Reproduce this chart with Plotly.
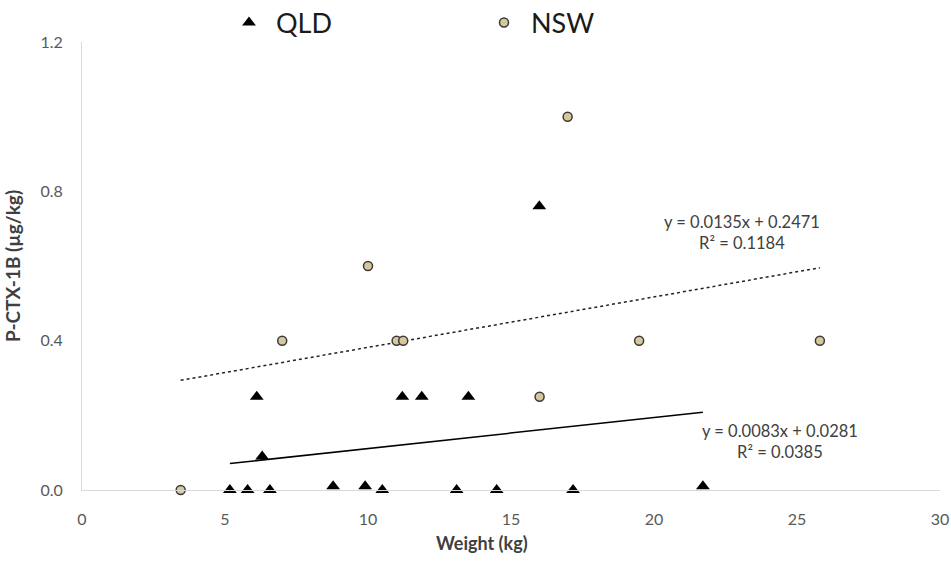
import plotly.graph_objects as go

# ---- data ----
qld_weight = [5.17, 5.79, 6.57, 8.78, 9.90, 10.50, 13.10, 14.50, 17.17, 21.71,
              6.11, 6.30, 11.20, 11.88, 13.51, 15.99]
qld_ctx = [0.0, 0.0, 0.0, 0.01, 0.01, 0.0, 0.0, 0.0, 0.0, 0.01,
           0.25, 0.09, 0.25, 0.25, 0.25, 0.76]

nsw_weight = [3.45, 7.00, 10.00, 11.00, 11.23, 16.00, 16.98, 19.48, 25.80]
nsw_ctx = [0.0, 0.4, 0.6, 0.4, 0.4, 0.25, 1.0, 0.4, 0.4]

qld_slope, qld_intercept, qld_r2 = 0.0083, 0.0281, 0.0385
nsw_slope, nsw_intercept, nsw_r2 = 0.0135, 0.2471, 0.1184

x_ticks = [0, 5, 10, 15, 20, 25, 30]
y_ticks = [0.0, 0.4, 0.8, 1.2]

FONT = "Lato"


def trend(xs, m, b):
    x0, x1 = min(xs), max(xs)
    return [x0, x1], [m * x0 + b, m * x1 + b]


fig = go.Figure()

tx, ty = trend(nsw_weight, nsw_slope, nsw_intercept)
fig.add_trace(go.Scatter(x=tx, y=ty, mode="lines", showlegend=False,
                         line=dict(color="#222222", width=1.5, dash="dot"),
                         hoverinfo="skip"))
tx, ty = trend(qld_weight, qld_slope, qld_intercept)
fig.add_trace(go.Scatter(x=tx, y=ty, mode="lines", showlegend=False,
                         line=dict(color="#000000", width=1.5),
                         hoverinfo="skip"))

fig.add_trace(go.Scatter(
    x=qld_weight, y=qld_ctx, mode="markers", name="QLD",
    marker=dict(symbol="triangle-up", size=12, color="#000000"),
    cliponaxis=False))
fig.add_trace(go.Scatter(
    x=nsw_weight, y=nsw_ctx, mode="markers", name="NSW",
    marker=dict(symbol="circle", size=9, color="#d6c89a",
                line=dict(color="#3a3a3a", width=1.5)),
    cliponaxis=False))

fig.add_annotation(
    x=23.06, y=0.69, xref="x", yref="y", showarrow=False,
    text=f"y = {nsw_slope}x + {nsw_intercept}<br>R² = {nsw_r2}",
    font=dict(family=FONT, size=16.5, color="#404040"), align="center")
fig.add_annotation(
    x=24.39, y=0.130, xref="x", yref="y", showarrow=False,
    text=f"y = {qld_slope}x + {qld_intercept}<br>R² = {qld_r2}",
    font=dict(family=FONT, size=16.5, color="#404040"), align="center")

fig.add_annotation(
    x=0.466, y=-53 / 448, xref="paper", yref="paper", showarrow=False,
    yanchor="middle",
    text="<b>Weight (kg)</b>", font=dict(family=FONT, size=18, color="#404040"))

fig.update_layout(
    width=951, height=578,
    margin=dict(l=82, r=11, t=42, b=88, autoexpand=False),
    paper_bgcolor="white", plot_bgcolor="white",
    font=dict(family=FONT, color="#595959"),
    showlegend=True,
    legend=dict(orientation="h", xref="container", yref="container",
                x=222 / 951, xanchor="left", y=1 - 23 / 578, yanchor="middle",
                font=dict(family=FONT, size=27, color="#1a1a1a"),
                itemwidth=44, entrywidth=196, bgcolor="rgba(0,0,0,0)"),
    xaxis=dict(range=[0, 30], tickvals=x_ticks, showgrid=False, zeroline=False,
               showline=True, linecolor="#d9d9d9", linewidth=1,
               ticks="outside", ticklen=15, tickcolor="rgba(0,0,0,0)",
               tickfont=dict(family=FONT, size=16, color="#595959")),
    yaxis=dict(range=[0, 1.2], tickvals=y_ticks, tickformat=".1f",
               showgrid=False, zeroline=False,
               showline=True, linecolor="#d9d9d9", linewidth=1,
               ticks="outside", ticklen=15, tickcolor="rgba(0,0,0,0)",
               tickfont=dict(family=FONT, size=16, color="#595959"),
               title=dict(text="<b>P-CTX-1B (µg/kg)</b>", standoff=14,
                          font=dict(family=FONT, size=19, color="#404040"))),
)

fig.write_html("out.html")
